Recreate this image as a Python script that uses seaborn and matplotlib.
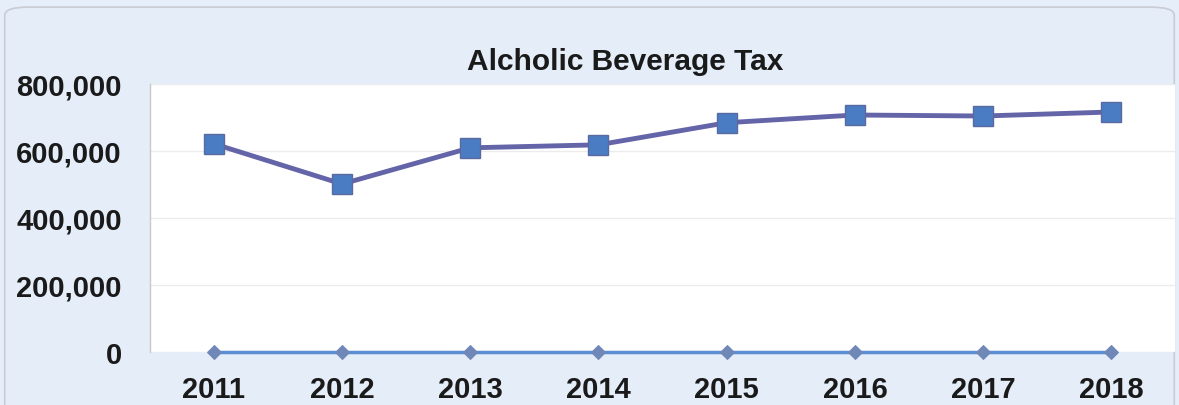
import matplotlib
matplotlib.use("Agg")
import matplotlib.pyplot as plt
import matplotlib.ticker as mticker
from matplotlib.patches import FancyBboxPatch
import numpy as np
import pandas as pd
import seaborn as sns

years = ["2011", "2012", "2013", "2014", "2015", "2016", "2017", "2018"]
tax_revenue = [621000, 501000, 609000, 618000, 684000, 707000, 704000, 716000]
baseline = [0, 0, 0, 0, 0, 0, 0, 0]
y_ticks = [0, 200000, 400000, 600000, 800000]

sns.set_theme(style="white")
plt.rcParams["font.family"] = ["Liberation Sans", "DejaVu Sans"]

df = pd.DataFrame({"year": years, "tax": tax_revenue, "base": baseline})

fig = plt.figure(figsize=(11.79, 4.06), dpi=100)
fig.patch.set_facecolor("#e6eef9")

# rounded chart frame, kept behind the axes
frame = FancyBboxPatch((0.004, -0.05), 0.992, 1.03, boxstyle="round,pad=0,rounding_size=0.02",
                       transform=fig.transFigure, facecolor="#e4edf8",
                       edgecolor="#c9ccd2", linewidth=1.2, zorder=-10)
fig.patches.append(frame)

ax = fig.add_axes([0.127, 0.131, 0.870, 0.660])
ax.set_facecolor("white")

sns.lineplot(data=df, x="year", y="base", ax=ax, color="#5b8fd2", linewidth=2.5,
             marker="D", markersize=7, markerfacecolor="#6f88b8",
             markeredgecolor="#6f88b8", sort=False, zorder=3, clip_on=False)
sns.lineplot(data=df, x="year", y="tax", ax=ax, color="#6464a8", linewidth=3.5,
             marker="s", markersize=15, markerfacecolor="#4a7cc4",
             markeredgecolor="#5a6aa0", markeredgewidth=1, sort=False, zorder=4)

ax.set_xlim(-0.5, len(years) - 0.5)
ax.set_ylim(0, 800000)
ax.set_yticks(y_ticks)
ax.yaxis.set_major_formatter(mticker.FuncFormatter(lambda v, p: f"{int(v):,}"))
ax.grid(axis="y", color="#ececec", linewidth=1)
ax.set_axisbelow(True)

for s in ["top", "right", "bottom"]:
    ax.spines[s].set_visible(False)
ax.spines["left"].set_color("#c8c8c8")
ax.spines["left"].set_linewidth(1)

ax.set_xlabel("")
ax.set_ylabel("")
ax.tick_params(axis="both", length=0, labelsize=21, colors="#1a1a1a")
ax.tick_params(axis="y", pad=20)
ax.tick_params(axis="x", pad=17)
for lbl in ax.get_xticklabels() + ax.get_yticklabels():
    lbl.set_fontweight("bold")

fig.text(0.530, 0.848, "Alcholic Beverage Tax", ha="center", va="center",
         fontsize=21.5, fontweight="bold", color="#1a1a1a")

fig.savefig("out.png", dpi=100, facecolor=fig.get_facecolor())
